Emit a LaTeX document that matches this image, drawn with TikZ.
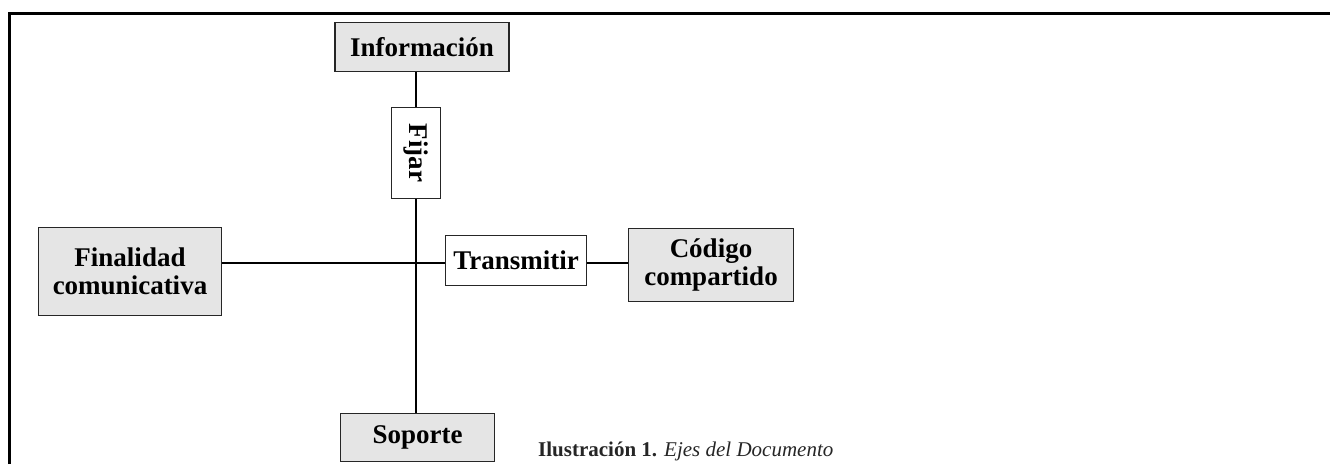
\documentclass[tikz,border=0pt]{standalone}
\usepackage{fontspec}
\setmainfont{Liberation Serif}
\usetikzlibrary{positioning}

\begin{document}
\begin{tikzpicture}[x=1pt, y=-1pt,
  box/.style={draw=black!85, line width=1.5pt, align=center, inner sep=2pt, font=\fontsize{27}{28}\selectfont\bfseries},
  eje/.style={box, fill=gray!20}, accion/.style={box, fill=white},
  linea/.style={line width=2pt}]
  \useasboundingbox (0,0) rectangle (1330,464);
  \draw[line width=3pt] (9,464) -- (9,13) -- (1330,13);
  \coordinate (c) at (416,263);
  \node[eje, minimum width=174pt, minimum height=49pt] (info) at (422,47) {Información};
  \node[accion, rotate=-90, minimum width=91pt, minimum height=49pt] (fijar) at (416,153) {Fijar};
  \node[eje, minimum width=183pt, minimum height=88pt] (fin) at (130,271.5) {Finalidad\\comunicativa};
  \node[accion, minimum width=141pt, minimum height=50pt] (trans) at (516,260.5) {Transmitir};
  \node[eje, minimum width=165pt, minimum height=73pt] (cod) at (711,265) {Código\\compartido};
  \node[eje, minimum width=154pt, minimum height=48pt] (sop) at (417.5,437.5) {Soporte};
  \node[anchor=base west, inner sep=0pt, font=\fontsize{21}{23}\selectfont, text=black!85] (cap) at (538,456)
    {\textbf{Ilustración 1.} \textit{Ejes del Documento}};
  \draw[linea] (fijar.west) -- (fijar.west |- info.south);
  \draw[linea] (fijar.east) -- (fijar.east |- sop.north);
  \draw[linea] (c -| fin.east) -- (c -| trans.west);
  \draw[linea] (c -| trans.east) -- (c -| cod.west);
\end{tikzpicture}
\end{document}
